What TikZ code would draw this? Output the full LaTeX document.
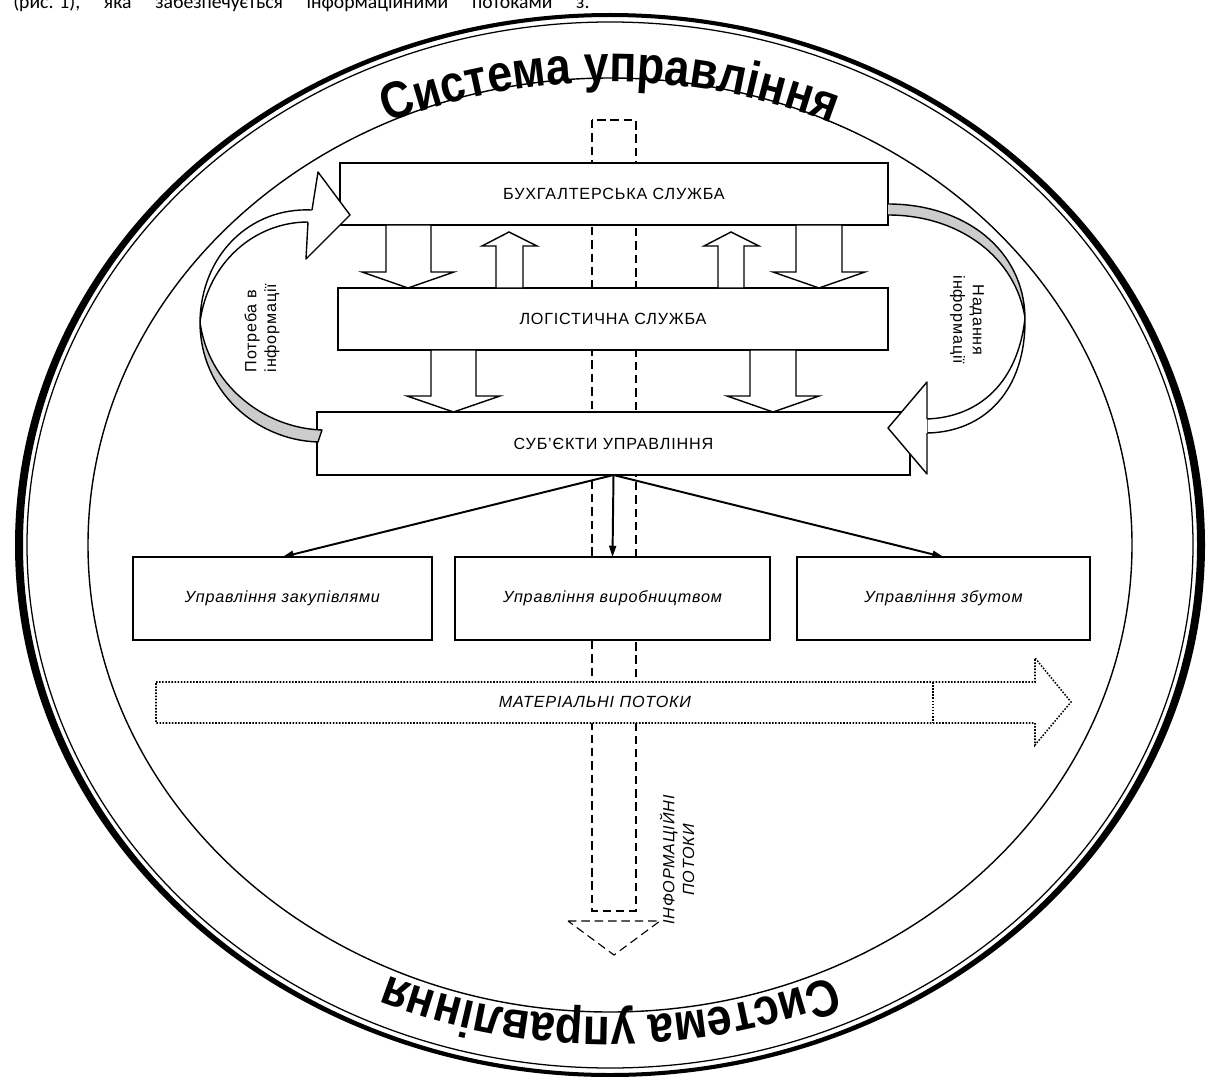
\documentclass[tikz,border=0pt]{standalone}
\usepackage{fontspec}
\setmainfont{Liberation Sans}
\newfontfamily\boxfont{Liberation Sans}[LetterSpace=5]
\newfontfamily\bannerfont{Liberation Sans}[FakeStretch=0.86]
\newfontfamily\bodyfont{Carlito}
\usetikzlibrary{arrows.meta,decorations.text}
\definecolor{ribbongray}{RGB}{204,204,204}
\tikzset{
  box/.style={draw, line width=1pt, fill=white, inner sep=0pt, outer sep=0pt},
  blockarrow/.style={draw, line width=1pt, fill=white, line join=miter},
  ribbon/.style={draw, line width=1pt, line join=round},
  fanarrow/.style={line width=1.4pt, -{Triangle[length=8pt,width=5pt]}},
  infoflow/.style={line width=0.8pt, dash pattern=on 6pt off 3.5pt},
  matflow/.style={draw, line width=1.1pt, dash pattern=on 1.1pt off 1.1pt, fill=white},
  itlabel/.style={font=\boxfont\itshape\fontsize{11.5}{14}\selectfont},
  banner/.style={decorate, decoration={text along path, text align=center,
    text={|\bannerfont\bfseries\fontsize{37}{40}\selectfont|Система управління}}}
}
\begin{document}
\begin{tikzpicture}[x=0.025cm,y=-0.025cm,font=\boxfont\fontsize{11.5}{14}\selectfont]
		\useasboundingbox (0,0) rectangle (1210,1077);
		
		%text above
		\node[anchor=base west, inner sep=0pt, font=\bodyfont\fontsize{14}{16}\selectfont] (intro) at (13,9) {\makebox[14.4cm][s]{\mbox{(рис. 1),} яка забезпечується інформаційними потоками з.}};
		
		%frame
		\fill[even odd rule] (610,545) ellipse [x radius=595, y radius=532] (610,545) ellipse [x radius=587, y radius=528];
		\draw[line width=0.9pt] (610,545) ellipse [x radius=583, y radius=523];
		\draw[line width=1pt] (610,545) ellipse [x radius=522, y radius=467];
		\path[banner] (610,702) ++(-115:620) arc[start angle=-115, end angle=-65, radius=620];
		\path[banner] (610,397) ++(65:620) arc[start angle=65, end angle=115, radius=620];
		
		%information flow
		\draw[infoflow] (592,120) rectangle (636,911);
		\draw[infoflow] (568,921) -- (660,921) -- (614,955) -- cycle;
		
		%services
		\node[box, minimum width=13.7cm, minimum height=1.55cm] (acc) at (614,194) {БУХГАЛТЕРСЬКА СЛУЖБА};
		\node[box, minimum width=13.75cm, minimum height=1.55cm] (logist) at (613,319) {ЛОГІСТИЧНА СЛУЖБА};
		\node[box, minimum width=14.825cm, minimum height=1.575cm] (subj) at (613.5,443.5) {СУБ’ЄКТИ УПРАВЛІННЯ};
		
		%block arrows
		\draw[blockarrow] (386,225) -- (431,225) -- (431,272) -- (454,272) -- (408,288) -- (362,272) -- (386,272) -- cycle;
		\draw[blockarrow] (796,225) -- (842,225) -- (842,272) -- (865,272) -- (819,288) -- (773,272) -- (796,272) -- cycle;
		\draw[blockarrow] (496,288) -- (523,288) -- (523,246) -- (537,246) -- (509,232) -- (482,246) -- (496,246) -- cycle;
		\draw[blockarrow] (718,288) -- (744,288) -- (744,246) -- (759,246) -- (731,232) -- (704,246) -- (718,246) -- cycle;
		\draw[blockarrow] (431,350) -- (476,350) -- (476,396) -- (500,396) -- (453.5,412) -- (407,396) -- (431,396) -- cycle;
		\draw[blockarrow] (750,350) -- (796,350) -- (796,396) -- (819,396) -- (773,412) -- (727,396) -- (750,396) -- cycle;
		
		%need of information
		\draw[ribbon, fill=white] (312,210) .. controls (250,207) and (201,255) .. (200,322) .. controls (208,262) and (255,222) .. (308,222);
		\draw[ribbon, fill=ribbongray] (200,322) .. controls (200,390) and (255,440) .. (318,442) -- (322,430) .. controls (262,428) and (208,383) .. (200,322) -- cycle;
		\draw[ribbon, fill=white] (312,210) -- (318,172) -- (350,215) -- (306,259) -- (308,222);
		\node[rotate=90, align=left] (need) at (262,328) {Потреба в\\інформації};
		
		%supply of information
		\draw[ribbon, fill=ribbongray] (888,204) .. controls (965,204) and (1024,250) .. (1025,318) .. controls (1016,258) and (960,215) .. (888,215);
		\draw[ribbon, fill=white] (1025,318) .. controls (1026,390) and (985,432) .. (927,433) -- (927,419) .. controls (980,417) and (1018,382) .. (1025,318) -- cycle;
		\draw[ribbon, fill=white] (927,419) -- (927,382) -- (888,428) -- (927,474) -- (927,433);
		\node[rotate=-90, align=center] (supply) at (967,320) {Надання\\інформації};
		
		%management
		\node[box, itlabel, minimum width=7.475cm, minimum height=2.075cm] (buy) at (282.5,598.5) {Управління закупівлями};
		\node[box, itlabel, minimum width=7.875cm, minimum height=2.075cm] (prod) at (612.5,598.5) {Управління виробництвом};
		\node[box, itlabel, minimum width=7.325cm, minimum height=2.075cm] (sales) at (943.5,598.5) {Управління збутом};
		\draw[fanarrow] (subj.south) -- (buy.north);
		\draw[fanarrow] (subj.south) -- (prod.north);
		\draw[fanarrow] (subj.south) -- (sales.north);
		
		%material flow
		\draw[matflow] (156,682) -- (1035,682) -- (1035,658) -- (1071,702) -- (1035,745) -- (1035,723) -- (156,723) -- cycle;
		\draw[matflow] (933,682) -- (933,723);
		\node[itlabel] (matlbl) at (595,702) {МАТЕРІАЛЬНІ ПОТОКИ};
		
		%labels
		\node[itlabel, rotate=90, align=center] (infolbl) at (677,860) {ІНФОРМАЦІЙНІ\\ПОТОКИ};
\end{tikzpicture}
\end{document}
